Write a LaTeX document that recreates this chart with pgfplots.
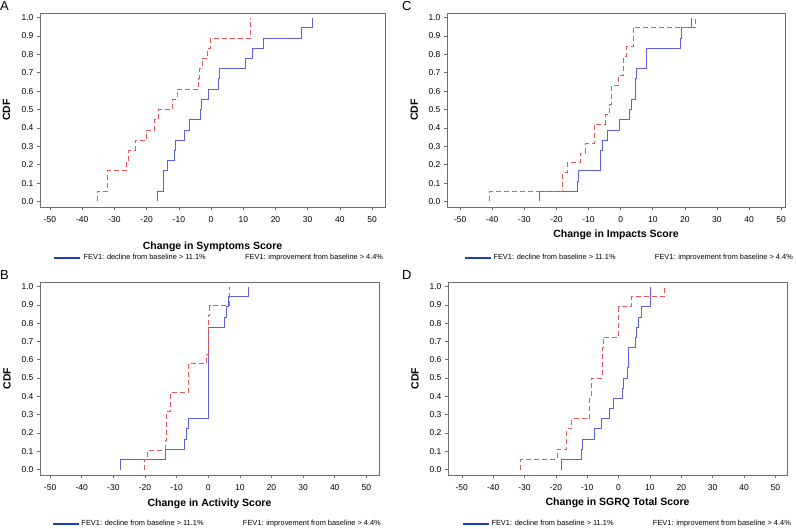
\documentclass[border=0pt]{standalone}
\usepackage{pgfplots}
\pgfplotsset{compat=1.18}
\usepackage{fontspec}
\setmainfont{Liberation Sans}
\definecolor{cdfblue}{RGB}{95,95,225}
\definecolor{cdfred}{RGB}{228,90,90}
\definecolor{legblue}{RGB}{30,60,190}
\definecolor{framegray}{RGB}{110,110,110}
\pgfplotsset{
  cdfaxis/.style={
    scale only axis, anchor=south west,
    ymin=-0.03, ymax=1.025,
    xtick={-50,-40,-30,-20,-10,0,10,20,30,40,50},
    ytick={0,0.1,0.2,0.3,0.4,0.5,0.6,0.7,0.8,0.9,1.0},
    yticklabel style={/pgf/number format/.cd,fixed,fixed zerofill,precision=1},
    /pgf/number format/assume math mode=true,
    tick label style={font=\fontsize{8.5}{9}\selectfont},
    xticklabel style={yshift=-3pt},
    tick align=outside, xtick pos=bottom, ytick pos=left,
    major tick length=3pt,
    axis line style={framegray, line width=0.8pt},
    every tick/.style={framegray, line width=0.6pt},
    label style={font=\fontsize{10.5}{12}\selectfont\bfseries},
    ylabel={CDF},
    ylabel style={at={(axis description cs:-0.097,0.5)}, anchor=center},
    legend columns=2,
    legend style={draw=none, fill=none, inner sep=0pt,
      font=\fontsize{7.4}{8}\selectfont, anchor=west,
      /tikz/every even column/.append style={column sep=15pt}},
  },
  blueline/.style={color=cdfblue, line width=0.9pt, const plot, forget plot},
  redline/.style={color=cdfred, line width=0.8pt, dash pattern=on 5pt off 3pt, const plot, forget plot},
}
\newcommand{\legentries}[1]{%
  \addlegendimage{legend image code/.code={\draw[color=legblue, line width=#1] (0pt,0pt) -- (26pt,0pt);}}
  \addlegendentry{FEV1: decline from baseline > 11.1\%}
  \addlegendimage{legend image code/.code={\draw[white, draw opacity=0] (0pt,0pt) -- (20pt,0pt);}}
  \addlegendentry{FEV1: improvement from baseline > 4.4\%}
}
\begin{document}
\begin{tikzpicture}
\path[use as bounding box] (0pt,0pt) rectangle (796pt,528pt);
% Panel A
\begin{axis}[cdfaxis, at={(40pt,321pt)}, width=345pt, height=194pt,
  xmin=-53.1, xmax=54.0,
  xlabel={Change in Symptoms Score},
  xlabel style={at={(axis description cs:0.5,-0.206)}, anchor=center},
  legend style={at={(axis description cs:0,0)}, xshift=13pt, yshift=-51pt}]
\addplot[blueline] coordinates {(-16.7,0) (-16.7,0.0556) (-14.9,0.1667) (-13.5,0.2222) (-11.5,0.2778) (-11.0,0.3333) (-8.3,0.3889) (-6.6,0.4444) (-3.4,0.5) (-3.1,0.5556) (-0.8,0.6111) (2.3,0.6667) (2.5,0.7222) (10.8,0.7778) (12.8,0.8333) (16.3,0.8889) (28.0,0.9444) (31.6,1.0)};
\addplot[redline] coordinates {(-35.4,0) (-35.4,0.0556) (-32.1,0.1667) (-26.2,0.2222) (-25.6,0.2778) (-23.6,0.3333) (-20.0,0.3889) (-17.6,0.4444) (-16.3,0.5) (-12.0,0.5556) (-10.6,0.6111) (-3.8,0.6667) (-3.6,0.7222) (-2.8,0.7778) (-1.1,0.8333) (-0.1,0.8889) (12.3,1.0)};
\legentries{2.5pt}
\end{axis}
% Panel C
\begin{axis}[cdfaxis, at={(447pt,321pt)}, width=338pt, height=194pt,
  xmin=-54.1, xmax=51.2,
  xlabel={Change in Impacts Score},
  xlabel style={at={(axis description cs:0.5,-0.144)}, anchor=center},
  legend style={at={(axis description cs:0,0)}, xshift=17pt, yshift=-51pt}]
\addplot[blueline] coordinates {(-25.2,0) (-25.2,0.0556) (-13.6,0.1111) (-13.0,0.1667) (-6.3,0.2778) (-5.8,0.3333) (-4.1,0.3889) (-0.5,0.4444) (2.7,0.5) (3.4,0.5556) (4.5,0.6667) (4.9,0.7222) (7.9,0.8333) (18.7,0.8889) (19.0,0.9444) (22.1,1.0)};
\addplot[redline] coordinates {(-40.8,0) (-40.8,0.0526) (-18.0,0.1579) (-16.7,0.2105) (-12.5,0.2632) (-10.9,0.3158) (-8.3,0.4211) (-4.7,0.4737) (-3.6,0.5263) (-2.9,0.6316) (-0.8,0.6842) (0.8,0.7895) (1.7,0.8421) (3.9,0.9474) (23.4,1.0)};
\legentries{1.3pt}
\end{axis}
% Panel B
\begin{axis}[cdfaxis, at={(40pt,53pt)}, width=339pt, height=193pt,
  xmin=-53.2, xmax=54.0,
  xlabel={Change in Activity Score},
  xlabel style={at={(axis description cs:0.5,-0.150)}, anchor=center},
  legend style={at={(axis description cs:0,0)}, xshift=12pt, yshift=-49pt}]
\addplot[blueline] coordinates {(-27.7,0) (-27.7,0.0556) (-13.6,0.1111) (-7.5,0.1667) (-7.0,0.2222) (-6.2,0.2778) (0,0.7778) (5.1,0.8333) (5.7,0.8889) (6.3,0.9444) (12.7,1.0)};
\addplot[redline] coordinates {(-20.1,0) (-20.1,0.0526) (-19.1,0.1053) (-13.6,0.1579) (-13.3,0.3158) (-12.0,0.4211) (-6.3,0.5789) (-0.5,0.6316) (0,0.8421) (0.5,0.8947) (6.6,1.0)};
\legentries{1.3pt}
\end{axis}
% Panel D
\begin{axis}[cdfaxis, at={(448pt,53pt)}, width=339pt, height=193pt,
  xmin=-54.4, xmax=53.7,
  xlabel={Change in SGRQ Total Score},
  xlabel style={at={(axis description cs:0.5,-0.145)}, anchor=center},
  legend style={at={(axis description cs:0,0)}, xshift=14pt, yshift=-49pt}]
\addplot[blueline] coordinates {(-18.1,0) (-18.1,0.0556) (-11.9,0.1111) (-11.6,0.1667) (-7.7,0.2222) (-5.4,0.2778) (-2.9,0.3333) (-1.6,0.3889) (1.1,0.4444) (1.4,0.5) (2.8,0.5556) (3.0,0.6111) (3.2,0.6667) (5.5,0.7222) (5.8,0.7778) (6.4,0.8333) (7.4,0.8889) (10.0,1.0)};
\addplot[redline] coordinates {(-31.3,0) (-31.3,0.0556) (-19.6,0.1111) (-16.5,0.2222) (-14.9,0.2778) (-9.3,0.3889) (-8.8,0.5) (-5.2,0.6667) (-4.9,0.7222) (0,0.8889) (4.0,0.9444) (14.5,1.0)};
\legentries{1.3pt}
\end{axis}
% panel letters
\node[font=\fontsize{13}{14}\selectfont, anchor=north west, inner sep=0pt] at (0pt,527pt) {A};
\node[font=\fontsize{13}{14}\selectfont, anchor=north west, inner sep=0pt] at (402pt,527pt) {C};
\node[font=\fontsize{13}{14}\selectfont, anchor=north west, inner sep=0pt] at (0pt,258pt) {B};
\node[font=\fontsize{13}{14}\selectfont, anchor=north west, inner sep=0pt] at (402pt,258pt) {D};
\end{tikzpicture}
\end{document}
